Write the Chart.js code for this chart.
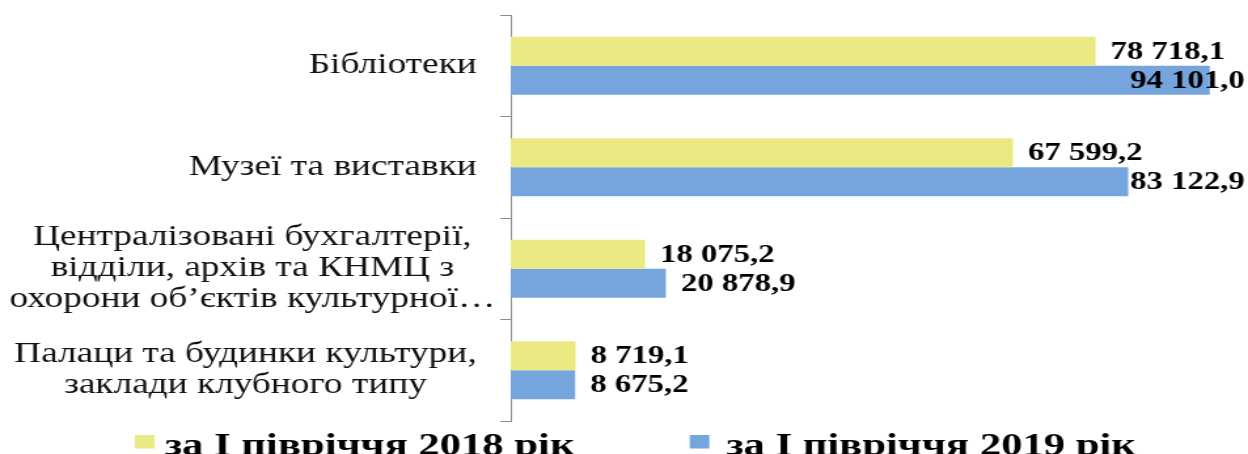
<!DOCTYPE html>
<html><head><meta charset="utf-8">
<script src="https://cdn.jsdelivr.net/npm/chart.js@4/dist/chart.umd.min.js"></script>
<style>
html,body{margin:0;padding:0;background:#fff;overflow:hidden;width:1248px;height:454px;}
#wrap{width:1248px;height:454px;overflow:hidden;position:relative;background:#fff;}
#c{position:absolute;left:0;top:0;transform-origin:0 0;}
</style></head><body>
<div id="wrap"><canvas id="c" width="953" height="454"></canvas></div>
<script>
// ---- data ----
const categories = [
  ["Бібліотеки"],
  ["Музеї та виставки"],
  ["Централізовані бухгалтерії,", "відділи, архів та КНМЦ з", "охорони об’єктів культурної…"],
  ["Палаци та будинки культури,", "заклади клубного типу"]
];
const seriesNames = ["за І півріччя 2018 рік", "за І півріччя 2019 рік"];
const values2018 = [78718.1, 67599.2, 18075.2, 8719.1];
const values2019 = [94101.0, 83122.9, 20878.9, 8675.2];
const xMin = 0;
const xMax = 99250;

// ---- layout / style ----
const STRETCH = 1248 / 953;
const SERIF = '"Liberation Serif", "Times New Roman", Tinos, Times, serif';
const canvas = document.getElementById('c');
canvas.style.width = '953px';
canvas.style.height = '454px';
canvas.style.transform = 'scaleX(' + STRETCH + ')';

const colors = ['#EAE982', '#76A4DC'];
const fmt = v => {
  const parts = v.toFixed(1).split('.');
  return parts[0].replace(/\B(?=(\d{3})+(?!\d))/g, ' ') + ',' + parts[1];
};

const categoryLabels = {
  id: 'categoryLabels',
  afterDraw(chart) {
    const ctx = chart.ctx, ys = chart.scales.y;
    ctx.save();
    ctx.font = '28.5px ' + SERIF;
    ctx.fillStyle = '#111';
    ctx.textBaseline = 'middle';
    ctx.textAlign = 'center';
    const right = chart.chartArea.left - 26;
    const lh = 31;
    categories.forEach((lines, i) => {
      const cy = ys.getPixelForTick(i);
      const core = lines.map(l => l.replace(/…$/, ''));
      const bw = Math.max(...core.map(l => ctx.measureText(l).width));
      const cx = right - bw / 2;
      lines.forEach((l, k) => {
        ctx.fillText(l, cx, cy + (k - (lines.length - 1) / 2) * lh);
      });
    });
    ctx.restore();
  }
};

const valueLabels = {
  id: 'valueLabels',
  afterDatasetsDraw(chart) {
    const ctx = chart.ctx;
    ctx.save();
    ctx.font = 'bold 25px ' + SERIF;
    ctx.fillStyle = '#000';
    ctx.textBaseline = 'middle';
    ctx.textAlign = 'left';
    const limit = chart.width - 2.5;
    chart.data.datasets.forEach((ds, di) => {
      chart.getDatasetMeta(di).data.forEach((bar, i) => {
        const t = fmt(ds.data[i]);
        const w = ctx.measureText(t).width;
        let x = bar.x + 11.5;
        if (x + w > limit) x = limit - w;
        ctx.fillText(t, x, bar.y + 1);
      });
    });
    ctx.restore();
  }
};

const bottomLegend = {
  id: 'bottomLegend',
  afterDraw(chart) {
    const ctx = chart.ctx;
    ctx.save();
    ctx.font = 'bold 32.6px ' + SERIF;
    ctx.textBaseline = 'alphabetic';
    ctx.textAlign = 'left';
    let x = 103;
    const base = chart.chartArea.bottom + 34;
    chart.data.datasets.forEach((ds, i) => {
      ctx.fillStyle = ds.backgroundColor;
      ctx.fillRect(x, chart.chartArea.bottom + 14, 15, 13.5);
      ctx.fillStyle = '#000';
      const tx = x + 23 + i * 5;
      ctx.fillText(ds.label, tx, base);
      x = tx + ctx.measureText(ds.label).width + 88;
    });
    ctx.restore();
  }
};

new Chart(canvas.getContext('2d'), {
  type: 'bar',
  data: {
    labels: categories,
    datasets: [
      { label: seriesNames[0], data: values2018, backgroundColor: colors[0], borderWidth: 0, categoryPercentage: 0.571, barPercentage: 1 },
      { label: seriesNames[1], data: values2019, backgroundColor: colors[1], borderWidth: 0, categoryPercentage: 0.571, barPercentage: 1 }
    ]
  },
  options: {
    indexAxis: 'y',
    responsive: false,
    maintainAspectRatio: false,
    animation: false,
    devicePixelRatio: 1,
    layout: { padding: { left: 382, right: 0, top: 15, bottom: 33 } },
    scales: {
      x: { display: false, min: xMin, max: xMax },
      y: {
        grid: { display: true, drawOnChartArea: false, drawTicks: true, tickLength: 8, color: '#8c8c8c', offset: true },
        border: { display: true, color: '#8c8c8c' },
        ticks: { display: false }
      }
    },
    plugins: { legend: { display: false }, tooltip: { enabled: false } }
  },
  plugins: [categoryLabels, valueLabels, bottomLegend]
});
</script>
</body></html>
